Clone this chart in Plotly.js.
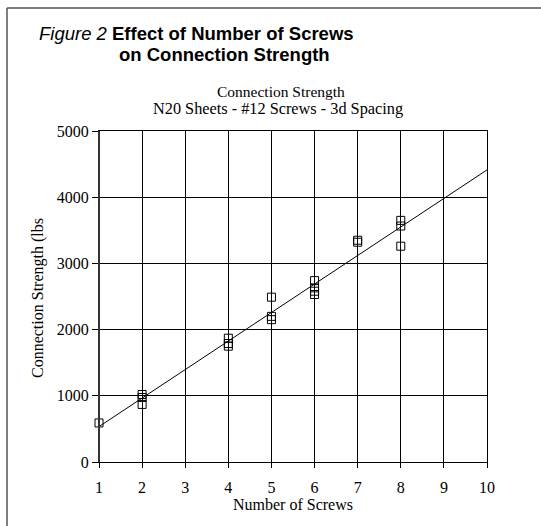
<!DOCTYPE html>
<html>
<head>
<meta charset="utf-8">
<script src="https://cdn.plot.ly/plotly-3.0.1.min.js"></script>
<style>
  html, body { margin: 0; padding: 0; background: #fff; }
  #chart { width: 541px; height: 526px; }
</style>
</head>
<body>
<div id="chart"></div>
<script>
// ---- Data ----
var screws   = [1, 2, 2, 2, 4, 4, 4, 5, 5, 5, 6, 6, 6, 6, 7, 7, 8, 8, 8];
var strength = [590, 1020, 975, 870, 1870, 1790, 1750, 2490, 2200, 2150, 2740, 2630, 2580, 2530, 3350, 3320, 3650, 3565, 3260];
var xTicks = [1, 2, 3, 4, 5, 6, 7, 8, 9, 10];
var yTicks = [0, 1000, 2000, 3000, 4000, 5000];
var figureLabel = "Figure 2";
var figureTitle1 = "Effect of Number of Screws";
var figureTitle2 = "on Connection Strength";
var chartTitle1 = "Connection Strength";
var chartTitle2 = "N20 Sheets - #12 Screws - 3d Spacing";
var xTitle = "Number of Screws";
var yTitle = "Connection Strength (lbs";

// ---- Linear trendline (least squares) from the data ----
var n = screws.length, sx = 0, sy = 0, sxx = 0, sxy = 0;
for (var i = 0; i < n; i++) { sx += screws[i]; sy += strength[i]; sxx += screws[i]*screws[i]; sxy += screws[i]*strength[i]; }
var slope = (n*sxy - sx*sy) / (n*sxx - sx*sx);
var icpt = (sy - slope*sx) / n;
var trendX = [xTicks[0], xTicks[xTicks.length-1]];
var trendY = trendX.map(function (x) { return icpt + slope*x; });

// ---- Layout geometry (pixels) ----
var W = 541, H = 526;
var L = 99, R = 487, T = 131, B = 462;
function px(x) { return (x - L) / (R - L); }
function py(y) { return (B - y) / (B - T); }

var serif = "Liberation Serif, Times New Roman, serif";
var sans = "Liberation Sans, Arial, sans-serif";

var traces = [
  {
    x: trendX, y: trendY, mode: 'lines', type: 'scatter',
    line: { color: '#000', width: 1 }, hoverinfo: 'skip', showlegend: false
  },
  {
    x: screws, y: strength, mode: 'markers', type: 'scatter', cliponaxis: false,
    marker: { symbol: 'square-open', size: 8, color: '#000', line: { width: 1, color: '#000' } },
    showlegend: false
  }
];

var layout = {
  width: W, height: H,
  margin: { l: L, r: W - R, t: T, b: H - B, pad: 0 },
  paper_bgcolor: '#fff', plot_bgcolor: '#fff',
  font: { family: serif, size: 16, color: '#000' },
  xaxis: {
    range: [1, 10], tickvals: xTicks, ticktext: xTicks.map(String),
    showgrid: true, gridcolor: '#000', gridwidth: 1,
    showline: true, linecolor: '#000', linewidth: 1, mirror: true,
    ticks: 'outside', ticklen: 5, tickcolor: '#000', tickwidth: 1,
    ticklabelstandoff: 6,
    zeroline: false, fixedrange: true,
    tickfont: { family: serif, size: 16, color: '#000' },
    title: { text: xTitle, font: { family: serif, size: 16, color: '#000' }, standoff: 2 }
  },
  yaxis: {
    range: [0, 5000], tickvals: yTicks, ticktext: yTicks.map(String),
    showgrid: true, gridcolor: '#000', gridwidth: 1,
    showline: true, linecolor: '#000', linewidth: 1, mirror: true,
    ticks: 'outside', ticklen: 6, tickcolor: '#000', tickwidth: 1,
    zeroline: false, fixedrange: true,
    tickfont: { family: serif, size: 16, color: '#000' }
  },
  shapes: [
    // outer frame: only top and left edges are visible in the picture
    { type: 'line', xref: 'paper', yref: 'paper', x0: px(7), x1: px(541), y0: py(8), y1: py(8),
      line: { color: '#555', width: 1.5 } },
    { type: 'line', xref: 'paper', yref: 'paper', x0: px(7), x1: px(7), y0: py(8), y1: py(526),
      line: { color: '#555', width: 1.5 } },
    // darker left axis line
    { type: 'line', xref: 'paper', yref: 'paper', x0: 0, x1: 0, y0: 0, y1: 1,
      line: { color: '#333', width: 2 } }
  ],
  annotations: [
    { xref: 'paper', yref: 'paper', x: px(37), y: py(33), xanchor: 'left', yanchor: 'middle',
      text: '<i>' + figureLabel + '</i> <b>' + figureTitle1 + '</b>', showarrow: false,
      font: { family: sans, size: 18.5, color: '#000' } },
    { xref: 'paper', yref: 'paper', x: px(117), y: py(55), xanchor: 'left', yanchor: 'middle',
      text: '<b>' + figureTitle2 + '</b>', showarrow: false,
      font: { family: sans, size: 18.5, color: '#000' } },
    { xref: 'paper', yref: 'paper', x: px(281), y: py(91.5), xanchor: 'center', yanchor: 'middle',
      text: chartTitle1, showarrow: false, font: { family: serif, size: 15.5, color: '#000' } },
    { xref: 'paper', yref: 'paper', x: px(278), y: py(108), xanchor: 'center', yanchor: 'middle',
      text: chartTitle2, showarrow: false, font: { family: serif, size: 16.3, color: '#000' } },
    { xref: 'paper', yref: 'paper', x: px(38), y: py(298), xanchor: 'center', yanchor: 'middle',
      textangle: -90, text: yTitle, showarrow: false, font: { family: serif, size: 16, color: '#000' } }
  ]
};

Plotly.newPlot('chart', traces, layout, { staticPlot: true, displayModeBar: false });
</script>
</body>
</html>
